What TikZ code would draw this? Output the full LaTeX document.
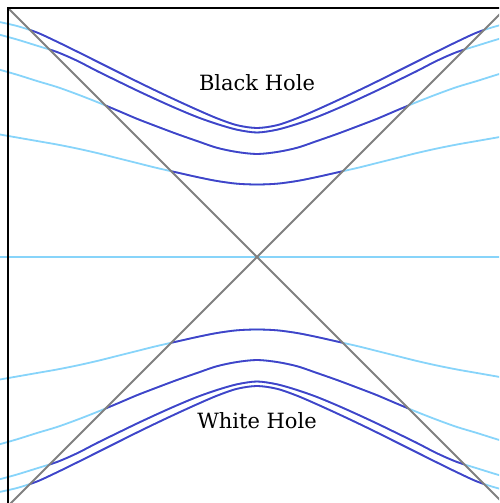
\documentclass[tikz,border=0pt]{standalone}
\usepackage{tikz}
\usepackage{fontspec}
\newfontfamily\labelfont{DejaVu Serif}
\definecolor{darkcurve}{RGB}{66,66,200}
\definecolor{lightcurve}{RGB}{135,212,250}
\definecolor{horizon}{RGB}{128,128,128}
\tikzset{
  framebox/.style={draw=black, line width=2pt},
  horizonline/.style={draw=horizon, line width=1.8pt},
  lightc/.style={draw=lightcurve, line width=1.8pt},
  darkc/.style={draw=darkcurve, line width=1.8pt},
  label/.style={font=\labelfont\fontsize{21}{25}\selectfont, anchor=base, inner sep=0pt}
}
\newcommand\slicecurves[1]{%
  \draw[#1] plot[smooth, tension=0.5] coordinates {(-260,235.5) (-240,231) (-220,224.5) (-200,215.3) (-180,205.5) (-160,195.5) (-140,185.5) (-120,175.5) (-100,165.8) (-80,156.4) (-60,147.3) (-40,138.7) (-20,131.8) (0,129) (20,131.8) (40,138.7) (60,147.3) (80,156.4) (100,165.8) (120,175.5) (140,185.5) (160,195.5) (180,205.5) (200,215.3) (220,224.5) (240,231) (260,235.5)};
  \draw[#1] plot[smooth, tension=0.5] coordinates {(-260,223) (-240,217.5) (-220,211.3) (-200,205) (-180,196.3) (-160,186) (-140,176.2) (-120,166.5) (-100,157.2) (-80,148.3) (-60,140) (-40,133) (-20,127.3) (0,124.5) (20,127.3) (40,133) (60,140) (80,148.3) (100,157.2) (120,166.5) (140,176.2) (160,186) (180,196.3) (200,205) (220,211.3) (240,217.5) (260,223)};
  \draw[#1] plot[smooth, tension=0.5] coordinates {(-260,188) (-240,182.3) (-220,176) (-200,170) (-180,162.8) (-160,155) (-140,146.7) (-120,138.2) (-100,130.5) (-80,123) (-60,116) (-40,109.2) (-20,105) (0,103) (20,105) (40,109.2) (60,116) (80,123) (100,130.5) (120,138.2) (140,146.7) (160,155) (180,162.8) (200,170) (220,176) (240,182.3) (260,188)};
  \draw[#1] plot[smooth, tension=0.5] coordinates {(-260,123) (-240,119.5) (-220,116) (-200,112.5) (-180,108.5) (-160,104) (-140,99) (-120,94) (-100,89) (-80,84.5) (-60,80) (-40,76) (-20,73.3) (0,72.5) (20,73.3) (40,76) (60,80) (80,84.5) (100,89) (120,94) (140,99) (160,104) (180,108.5) (200,112.5) (220,116) (240,119.5) (260,123)};
}
\begin{document}
\begin{tikzpicture}[x=1pt, y=1pt]
  \useasboundingbox (-257,-246) rectangle (242,257);
  \clip (-257,-246) rectangle (242,257);
  % light (outside) parts of the slices
  \slicecurves{lightc}
  \begin{scope}[yscale=-1]
    \slicecurves{lightc}
  \end{scope}
  \draw[lightc] (-260,0) -- (260,0);
  % dark (inside horizon) parts
  \begin{scope}
    \clip (0,0) -- (-400,400) -- (400,400) -- cycle;
    \slicecurves{darkc}
  \end{scope}
  \begin{scope}
    \clip (0,0) -- (-400,-400) -- (400,-400) -- cycle;
    \begin{scope}[yscale=-1]
      \slicecurves{darkc}
    \end{scope}
  \end{scope}
  % horizons
  \coordinate (tl) at (-249,249);
  \coordinate (br) at (249,-249);
  \coordinate (bl) at (-249,-249);
  \coordinate (tr) at (249,249);
  \draw[horizonline] (tl) -- (br);
  \draw[horizonline] (bl) -- (tr);
  % frame
  \draw[framebox] (-249,-249) rectangle (249,249);
  % labels
  \node[label] (bh) at (0,166) {Black Hole};
  \node[label] (wh) at (0,-171) {White Hole};
\end{tikzpicture}
\end{document}
